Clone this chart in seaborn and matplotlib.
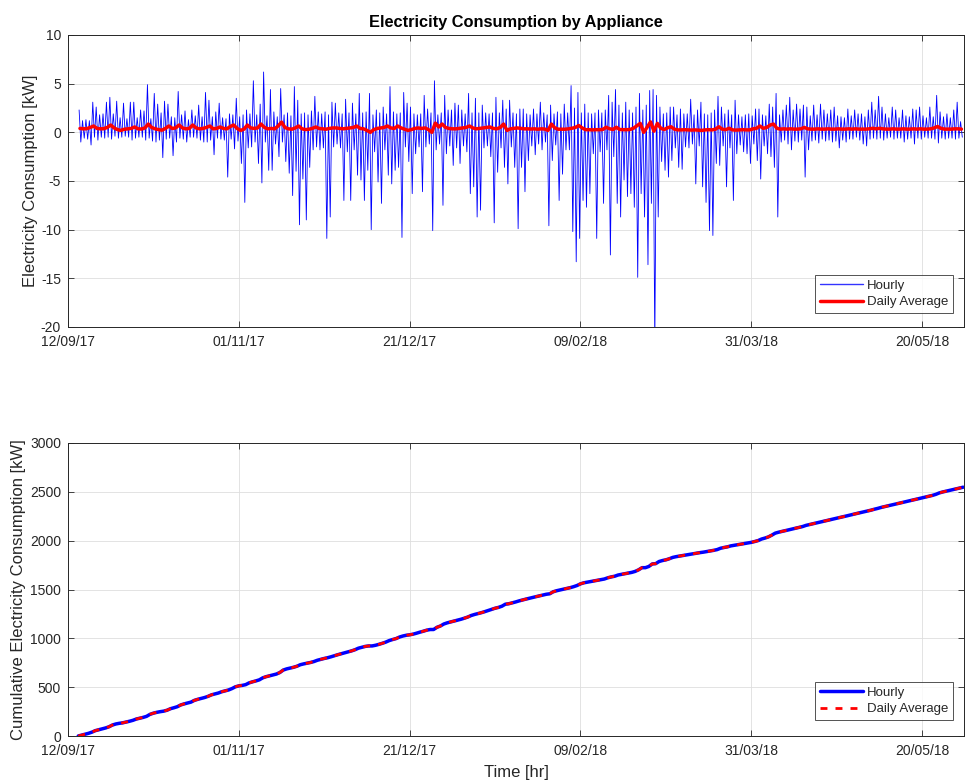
import numpy as np
import pandas as pd
import matplotlib
matplotlib.use("Agg")
import matplotlib.pyplot as plt
import matplotlib.dates as mdates
import seaborn as sns

# ---------------- data ----------------
start_date = "2017-09-15"

daily_max = [
    2.3, 1.2, 1.3, 1.2, 3.1, 2.6, 1.8, 1.9, 3.1, 3.6,
    1.9, 3.2, 1.5, 3.0, 1.4, 3.1, 3.1, 1.5, 2.3, 2.2,
    4.9, 1.4, 4.0, 2.9, 2.0, 3.2, 2.9, 1.6, 1.5, 4.2,
    1.8, 2.2, 1.3, 2.3, 1.7, 2.8, 1.6, 4.1, 3.3, 1.6,
    2.1, 3.0, 1.5, 1.4, 1.9, 1.8, 3.5, 1.6, 1.8, 2.3,
    1.9, 5.3, 1.8, 2.9, 6.2, 1.7, 4.4, 2.1, 1.6, 4.5,
    1.8, 2.0, 1.7, 4.7, 3.3, 1.9, 2.0, 1.8, 2.2, 3.7,
    2.1, 1.9, 2.1, 1.8, 3.1, 3.0, 2.0, 1.9, 3.4, 2.0,
    3.0, 1.9, 4.0, 2.0, 2.1, 4.0, 1.8, 2.3, 2.0, 2.6,
    1.9, 4.7, 2.1, 1.9, 2.0, 4.1, 3.0, 2.6, 1.9, 1.8,
    1.9, 3.8, 2.4, 2.0, 5.3, 1.8, 2.0, 3.8, 2.3, 2.3,
    3.0, 2.8, 2.3, 1.9, 4.0, 2.0, 3.5, 2.0, 2.8, 2.0,
    1.9, 2.0, 3.6, 2.0, 3.3, 2.4, 3.3, 2.0, 1.9, 2.4,
    2.4, 1.9, 1.8, 2.4, 1.9, 3.1, 2.0, 1.8, 2.8, 1.9,
    2.1, 1.9, 2.9, 2.0, 4.8, 2.5, 4.1, 2.0, 2.9, 2.0,
    1.9, 2.0, 2.3, 2.0, 2.3, 3.8, 3.1, 4.4, 2.8, 2.0,
    3.1, 2.3, 2.0, 2.6, 4.0, 2.3, 2.8, 4.3, 4.4, 3.8,
    2.6, 1.9, 2.0, 2.6, 2.6, 1.8, 2.4, 1.9, 1.9, 3.4,
    1.8, 2.3, 3.1, 1.9, 1.8, 2.0, 2.3, 3.7, 2.6, 1.9,
    2.3, 1.8, 3.3, 1.8, 1.6, 1.8, 1.9, 1.7, 2.4, 2.4,
    1.8, 1.7, 2.9, 2.6, 4.0, 1.8, 2.3, 2.8, 3.6, 2.3,
    2.9, 2.4, 2.8, 2.6, 1.7, 2.8, 1.8, 2.9, 2.3, 1.9,
    2.3, 2.6, 1.7, 1.6, 1.5, 2.4, 1.7, 2.3, 1.9, 1.9,
    1.6, 2.3, 3.1, 2.3, 3.7, 2.6, 1.9, 1.5, 2.6, 2.3,
    1.5, 2.3, 1.7, 1.6, 2.4, 2.3, 2.6, 1.7, 1.5, 2.6,
    1.6, 3.8, 2.1, 1.6, 1.9, 1.5, 2.3, 3.1, 1.1,
]

daily_min = [
    -1.0, -0.6, -0.7, -1.3, -0.5, -0.8, -0.5, -0.6, -0.5, -0.7,
    -0.4, -0.6, -0.5, -0.4, -0.5, -0.8, -0.6, -0.5, -0.5, -0.8,
    -0.6, -0.9, -1.0, -0.8, -2.6, -0.7, -0.6, -2.4, -1.0, -0.6,
    -0.7, -1.0, -0.5, -0.5, -0.6, -0.8, -1.0, -1.0, -0.8, -2.3,
    -0.6, -0.7, -0.8, -4.6, -0.7, -1.7, -0.9, -3.2, -7.2, -1.6,
    -1.5, -1.0, -3.2, -5.2, -1.0, -3.9, -3.9, -1.2, -2.5, -1.0,
    -3.0, -4.2, -6.5, -4.0, -9.5, -4.8, -9.0, -3.6, -1.8, -1.5,
    -1.8, -1.6, -10.9, -8.7, -1.5, -1.2, -1.6, -7.0, -2.0, -7.0,
    -1.8, -4.4, -4.9, -7.0, -3.9, -10.0, -2.0, -5.1, -7.3, -1.8,
    -4.4, -5.3, -3.9, -3.6, -10.8, -1.5, -3.0, -6.3, -2.2, -1.5,
    -6.1, -1.5, -1.2, -10.1, -1.8, -1.2, -7.5, -2.2, -1.4, -3.4,
    -1.6, -3.2, -1.4, -2.0, -6.3, -5.6, -8.7, -8.0, -1.6, -1.4,
    -2.5, -9.3, -4.1, -1.6, -3.6, -5.3, -1.5, -3.6, -9.9, -3.6,
    -6.1, -2.9, -1.4, -2.3, -1.2, -1.8, -1.0, -9.6, -2.9, -1.3,
    -7.0, -4.3, -1.8, -1.8, -10.2, -13.3, -10.9, -7.0, -7.7, -6.3,
    -2.2, -10.9, -2.0, -7.3, -1.8, -12.6, -2.5, -7.3, -8.7, -4.9,
    -6.6, -6.3, -7.7, -14.9, -6.3, -8.7, -13.6, -7.3, -22.0, -8.7,
    -3.0, -3.9, -4.6, -2.9, -1.6, -3.6, -3.8, -1.5, -1.6, -1.2,
    -5.3, -1.4, -5.6, -7.2, -10.1, -10.6, -3.2, -3.4, -1.4, -5.6,
    -1.6, -7.0, -2.2, -1.3, -2.0, -2.2, -3.2, -1.2, -2.9, -4.8,
    -1.4, -2.2, -2.5, -3.6, -8.7, -1.0, -0.8, -1.2, -1.8, -0.9,
    -1.0, -0.8, -4.6, -1.8, -0.9, -0.8, -1.1, -0.7, -0.9, -0.8,
    -1.0, -0.9, -1.6, -0.8, -1.0, -0.7, -0.7, -0.5, -0.8, -1.2,
    -1.4, -0.7, -0.6, -0.7, -0.6, -0.8, -0.6, -0.5, -0.7, -0.6,
    -0.6, -1.0, -0.7, -0.6, -1.2, -0.6, -0.7, -0.5, -0.6, -0.6,
    -0.7, -1.1, -0.6, -0.7, -0.6, -0.6, -0.7, -0.6, -0.5,
]

daily_avg = [
    0.40, 0.36, 0.38, 0.50, 0.65, 0.40, 0.36, 0.38, 0.50, 0.75,
    0.45, 0.28, 0.20, 0.32, 0.36, 0.40, 0.55, 0.36, 0.34, 0.45,
    0.85, 0.50, 0.36, 0.28, 0.22, 0.40, 0.65, 0.40, 0.45, 0.75,
    0.45, 0.36, 0.40, 0.75, 0.45, 0.36, 0.40, 0.50, 0.65, 0.36,
    0.40, 0.55, 0.40, 0.36, 0.60, 0.75, 0.40, 0.20, 0.32, 0.75,
    0.45, 0.40, 0.45, 0.85, 0.50, 0.36, 0.40, 0.36, 0.65, 1.05,
    0.50, 0.36, 0.32, 0.45, 0.65, 0.36, 0.28, 0.32, 0.40, 0.55,
    0.40, 0.36, 0.32, 0.40, 0.45, 0.45, 0.40, 0.36, 0.40, 0.45,
    0.50, 0.65, 0.40, 0.36, 0.20, 0.00, 0.28, 0.40, 0.45, 0.50,
    0.65, 0.45, 0.40, 0.65, 0.45, 0.32, 0.20, 0.28, 0.40, 0.45,
    0.40, 0.45, 0.28, 0.00, 0.95, 0.55, 0.85, 0.50, 0.40, 0.36,
    0.36, 0.40, 0.45, 0.50, 0.65, 0.45, 0.36, 0.40, 0.45, 0.50,
    0.55, 0.40, 0.36, 0.50, 0.85, 0.20, 0.36, 0.40, 0.45, 0.40,
    0.36, 0.36, 0.34, 0.36, 0.32, 0.36, 0.34, 0.20, 0.85, 0.45,
    0.32, 0.32, 0.32, 0.36, 0.42, 0.50, 0.70, 0.45, 0.27, 0.27,
    0.25, 0.27, 0.27, 0.29, 0.52, 0.37, 0.29, 0.52, 0.29, 0.27,
    0.27, 0.29, 0.42, 0.67, 0.92, 0.00, 0.52, 1.07, 0.12, 0.92,
    0.42, 0.29, 0.47, 0.57, 0.32, 0.25, 0.25, 0.27, 0.25, 0.23,
    0.25, 0.23, 0.20, 0.25, 0.27, 0.25, 0.32, 0.57, 0.32, 0.27,
    0.42, 0.25, 0.23, 0.25, 0.27, 0.25, 0.25, 0.36, 0.41, 0.65,
    0.41, 0.50, 0.75, 0.85, 0.41, 0.33, 0.36, 0.33, 0.36, 0.33,
    0.33, 0.36, 0.50, 0.36, 0.33, 0.33, 0.36, 0.33, 0.33, 0.36,
    0.33, 0.33, 0.36, 0.33, 0.33, 0.36, 0.33, 0.36, 0.33, 0.33,
    0.33, 0.36, 0.41, 0.36, 0.41, 0.36, 0.33, 0.33, 0.36, 0.33,
    0.33, 0.36, 0.33, 0.33, 0.36, 0.33, 0.36, 0.33, 0.33, 0.36,
    0.45, 0.60, 0.41, 0.33, 0.33, 0.33, 0.36, 0.36, 0.33,
]

xtick_dates = ["2017-09-12", "2017-11-01", "2017-12-21",
               "2018-02-09", "2018-03-31", "2018-05-20"]
top_yticks = [-20, -15, -10, -5, 0, 5, 10]
bottom_yticks = [0, 500, 1000, 1500, 2000, 2500, 3000]

# ---------------- derived tables ----------------
n = len(daily_avg)
days = pd.Timestamp(start_date) + pd.to_timedelta(np.arange(n), unit="D")

t_hourly = np.empty(2 * n, dtype="datetime64[ns]")
v_hourly = np.empty(2 * n)
t_hourly[0::2] = (days + pd.Timedelta(hours=6)).values
t_hourly[1::2] = (days + pd.Timedelta(hours=18)).values
v_hourly[0::2] = daily_max
v_hourly[1::2] = daily_min
df_hourly = pd.DataFrame({"t": t_hourly, "kw": v_hourly})

df_daily = pd.DataFrame({"t": days + pd.Timedelta(hours=12), "kw": daily_avg})

cum_t = pd.Timestamp(start_date) + pd.to_timedelta(np.arange(n + 1), unit="D")
cum_v = np.concatenate([[0.0], np.cumsum(np.array(daily_avg) * 24.0)])
df_cum = pd.DataFrame({"t": cum_t, "kwh": cum_v})

# ---------------- style ----------------
sns.set_style("ticks")
plt.rcParams["font.family"] = ["Liberation Sans", "DejaVu Sans"]
plt.rcParams["axes.unicode_minus"] = False
dark = "#262626"

W, H = 966, 783
fig = plt.figure(figsize=(W / 100, H / 100), dpi=100)
L, R = 68, 964
ax1 = fig.add_axes([L / W, 1 - 327 / H, (R - L) / W, (327 - 35) / H])
ax2 = fig.add_axes([L / W, 1 - 736 / H, (R - L) / W, (736 - 443) / H])

# top panel
sns.lineplot(data=df_hourly, x="t", y="kw", ax=ax1, color="#0000ff", lw=0.6,
             estimator=None, sort=False, label="Hourly")
sns.lineplot(data=df_daily, x="t", y="kw", ax=ax1, color="#ff0000", lw=2.5,
             estimator=None, sort=False, label="Daily Average")

# bottom panel
sns.lineplot(data=df_cum, x="t", y="kwh", ax=ax2, color="#0000ff", lw=2.5,
             estimator=None, sort=False, label="Hourly")
sns.lineplot(data=df_cum, x="t", y="kwh", ax=ax2, color="#ff0000", lw=2.0,
             estimator=None, sort=False, label="Daily Average")
ax2.lines[-1].set_dashes([2.5, 2.9])

xlim = (pd.Timestamp("2017-09-12"), pd.Timestamp("2018-06-01 06:00"))
xt = [pd.Timestamp(d) for d in xtick_dates]

for ax, yt, off in ((ax1, top_yticks, 14), (ax2, bottom_yticks, 16)):
    ax.set_xlim(*xlim)
    ax.set_ylim(yt[0], yt[-1])
    ax.set_yticks(yt)
    ax.set_xticks(xt)
    ax.xaxis.set_major_formatter(mdates.DateFormatter("%d/%m/%y"))
    ax.grid(True, color="#dedede", lw=0.6)
    ax.set_axisbelow(True)
    ax.tick_params(direction="in", length=4, width=0.6, top=True, right=True,
                   labelsize=10, colors=dark)
    ax.tick_params(axis="x", pad=6)
    ax.tick_params(axis="y", pad=5)
    for s in ax.spines.values():
        s.set_visible(True)
        s.set_color(dark)
        s.set_linewidth(0.7)
    leg = ax.legend(loc="lower right",
                    bbox_to_anchor=((953 - L) / (R - L), off / 293),
                    borderaxespad=0, frameon=True, fancybox=False,
                    edgecolor=dark, fontsize=9.5, handlelength=3.3,
                    handletextpad=0.3, borderpad=0.35, labelspacing=0.35)
    leg.get_frame().set_linewidth(0.7)
    for txt in leg.get_texts():
        txt.set_color(dark)

hl = ax1.get_legend().get_lines()
hl[0].set_color("#3333ff")
hl[0].set_linewidth(1.0)

ax1.set_xlabel("")
ax1.set_ylabel("Electricity Consumption [kW]", fontsize=12, color=dark,
               labelpad=2)
ax1.set_title("Electricity Consumption by Appliance", fontsize=11.8,
              fontweight="bold", color="black", pad=6)
ax2.set_xlabel("Time [hr]", fontsize=12, color=dark, labelpad=5)
ax2.set_ylabel("Cumulative Electricity Consumption [kW]", fontsize=12,
               color=dark, labelpad=3)

fig.savefig("out.png", dpi=100)
